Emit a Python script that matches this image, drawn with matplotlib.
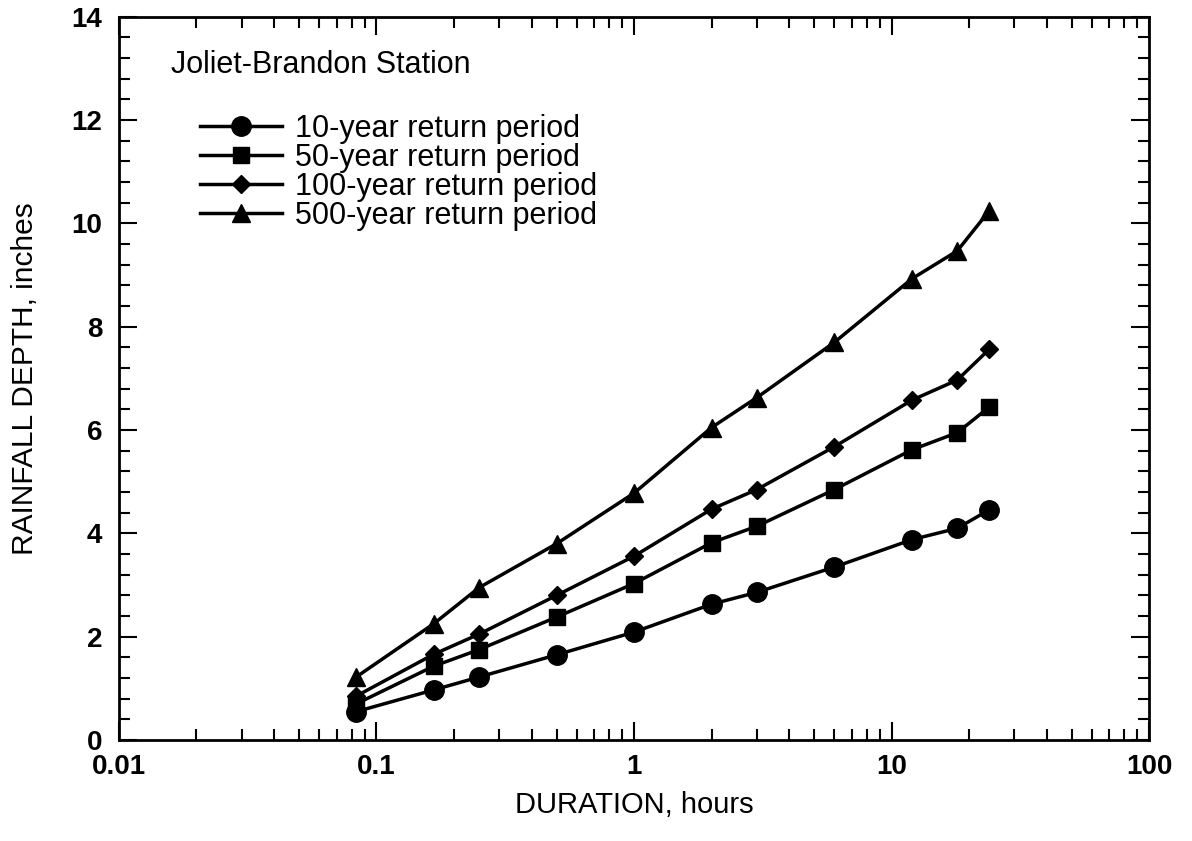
import numpy as np
import matplotlib.pyplot as plt
from matplotlib.ticker import MultipleLocator, LogLocator, FixedLocator, FixedFormatter

plt.rcParams['font.family'] = ['Liberation Sans', 'DejaVu Sans']

# durations in hours (5, 10, 15, 30 min, 1, 2, 3, 6, 12, 18, 24 h)
duration = [5/60, 10/60, 15/60, 0.5, 1, 2, 3, 6, 12, 18, 24]

depth_10 = [0.55, 0.97, 1.22, 1.65, 2.09, 2.63, 2.86, 3.35, 3.88, 4.10, 4.46]
depth_50 = [0.70, 1.43, 1.75, 2.38, 3.03, 3.82, 4.14, 4.85, 5.62, 5.95, 6.45]
depth_100 = [0.85, 1.66, 2.05, 2.80, 3.56, 4.47, 4.85, 5.68, 6.58, 6.97, 7.57]
depth_500 = [1.22, 2.25, 2.95, 3.80, 4.78, 6.05, 6.63, 7.70, 8.93, 9.47, 10.25]

labels = ['10-year return period', '50-year return period',
          '100-year return period', '500-year return period']
x_ticks = [0.01, 0.1, 1, 10, 100]
x_ticklabels = ['0.01', '0.1', '1', '10', '100']

fig = plt.figure(figsize=(11.92, 8.41), dpi=100)
ax = fig.add_axes([0.0998, 0.120, 0.8642, 0.860])

ax.plot(duration, depth_10, '-o', color='black', lw=2.5, ms=14, label=labels[0])
ax.plot(duration, depth_50, '-s', color='black', lw=2.5, ms=12, label=labels[1])
ax.plot(duration, depth_100, '-D', color='black', lw=2.5, ms=9, label=labels[2])
ax.plot(duration, depth_500, '-^', color='black', lw=2.5, ms=13, label=labels[3])

ax.set_xscale('log')
ax.set_xlim(0.01, 100)
ax.set_ylim(0, 14)
ax.xaxis.set_major_locator(FixedLocator(x_ticks))
ax.xaxis.set_major_formatter(FixedFormatter(x_ticklabels))
ax.xaxis.set_minor_locator(LogLocator(base=10, subs=np.arange(2, 10)))
ax.yaxis.set_major_locator(MultipleLocator(2))
ax.yaxis.set_minor_locator(MultipleLocator(0.4))

ax.tick_params(which='both', direction='in', top=True, right=True, width=1.5)
ax.tick_params(which='major', length=13, labelsize=20)
ax.tick_params(axis='x', which='major', pad=10)
ax.tick_params(axis='y', which='major', pad=12)
ax.tick_params(which='minor', length=8)
for lab in ax.get_xticklabels() + ax.get_yticklabels():
    lab.set_fontweight('bold')
for s in ax.spines.values():
    s.set_linewidth(2)

ax.set_xlabel('DURATION, hours', fontsize=21, labelpad=8)
ax.set_ylabel('RAINFALL DEPTH, inches', fontsize=21.5, labelpad=23)

ax.text(0.051, 0.933, 'Joliet-Brandon Station', transform=ax.transAxes,
        fontsize=22, va='center')
ax.legend(loc='upper left', bbox_to_anchor=(0.0786, 0.866), frameon=False,
          fontsize=22, handlelength=2.7, labelspacing=-0.03, handletextpad=0.4,
          borderaxespad=0, borderpad=0)

fig.savefig('out.png', dpi=100)
